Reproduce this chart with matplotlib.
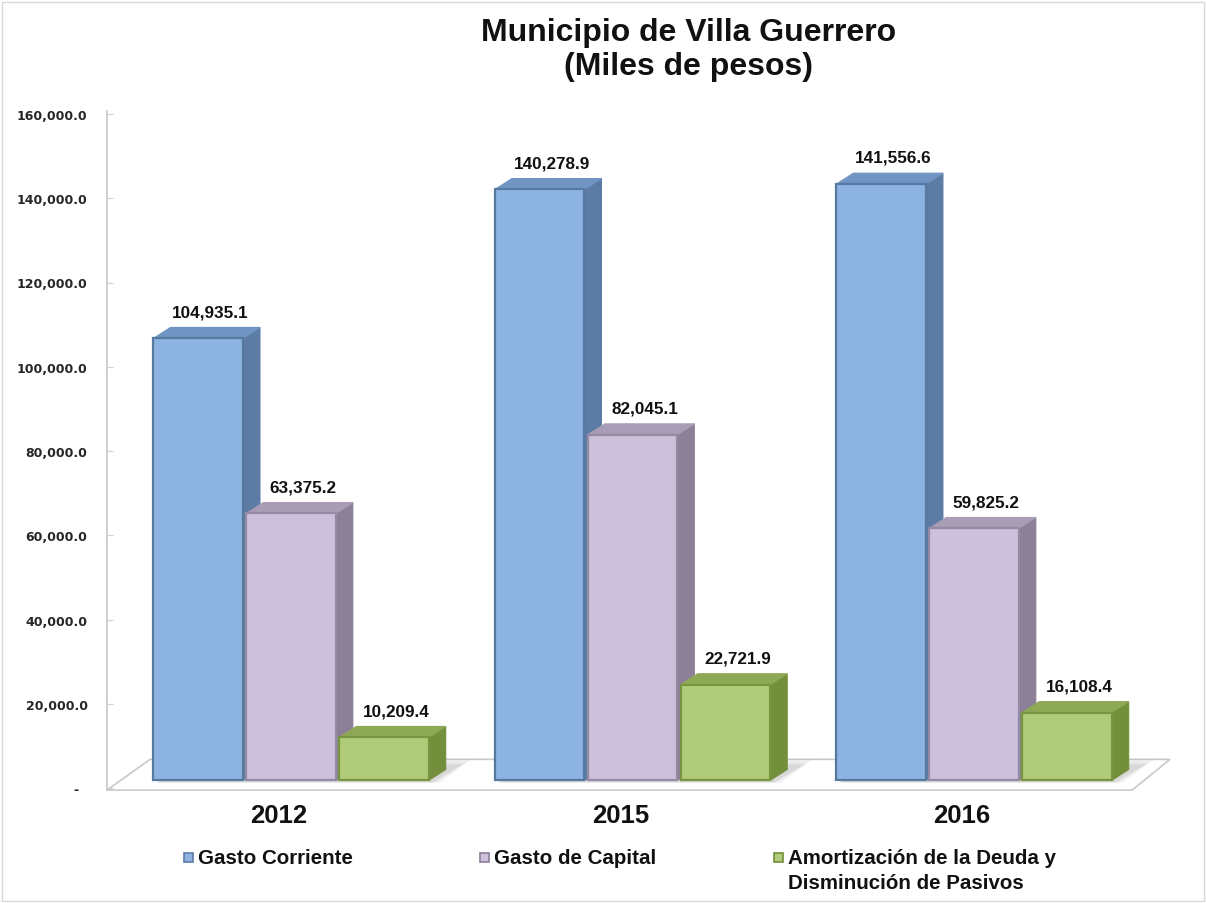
#!/usr/bin/env python3
"""Municipio de Villa Guerrero - gasto por tipo (3D-look bar chart)."""
import numpy as np
import matplotlib
matplotlib.use('Agg')
import matplotlib.pyplot as plt
from matplotlib.patches import Polygon, Rectangle

# Data
YEARS = ['2012', '2015', '2016']
SERIES = ['Gasto Corriente', 'Gasto de Capital',
          'Amortización de la Deuda y\nDisminución de Pasivos']
GASTO_CORRIENTE = [104935.1, 140278.9, 141556.6]
GASTO_CAPITAL = [63375.2, 82045.1, 59825.2]
AMORTIZACION = [10209.4, 22721.9, 16108.4]
Y_TICKS = [0, 20000, 40000, 60000, 80000, 100000, 120000, 140000, 160000]

# Colours: front, side, top, edge
COLORS = [
    ('#8db3e2', '#5c7ca6', '#7095c4', '#56799f'),
    ('#ccc0da', '#8c7f98', '#a99cb6', '#958aa3'),
    ('#b0cb7a', '#738f3b', '#8ea955', '#789640'),
]

W, H, DPI = 12.06, 9.04, 100
BAR_W = 0.262
BAR_STEP = 0.272
DEPTH_X = 0.05       # side depth in x units (~17 px)
DEPTH_Y = 2600       # side depth in y units (~11 px)
BASE = 1800          # front face baseline above axis zero
FONT = 'Liberation Sans'


def px(x, y):
    """Figure pixel (from top-left) to figure fraction."""
    return x / (W * DPI), 1 - y / (H * DPI)


fig = plt.figure(figsize=(W, H), dpi=DPI)
fig.patch.set_facecolor('white')
fig.patches.append(Rectangle(px(2, 902), 1202 / (W * DPI), 899 / (H * DPI),
                             transform=fig.transFigure, fill=False,
                             edgecolor='#d9d9d9', linewidth=1))

l, b = px(107, 789)
r, t = px(1170, 115)
ax = fig.add_axes([l, b, r - l, t - b])
ax.set_xlim(-0.539, 2.574)
ax.set_ylim(0, 160000)
ax.set_facecolor('none')

# floor
floor = Polygon([(-0.539, -500), (2.463, -500), (2.574, 6800), (-0.413, 6800)],
                closed=True, facecolor='white', edgecolor='#c9c9c9',
                linewidth=1.2, clip_on=False, zorder=1)
ax.add_patch(floor)

x = np.arange(len(YEARS))
series_vals = [GASTO_CORRIENTE, GASTO_CAPITAL, AMORTIZACION]

for gi in range(len(YEARS)):
    # soft shadow on the floor behind the group
    x0 = x[gi] - BAR_STEP - BAR_W / 2
    x1 = x[gi] + BAR_STEP + BAR_W / 2
    for k, a in enumerate([0.18, 0.14, 0.10]):
        grow = k * 0.012
        shadow = Polygon([(x0 + 0.01, BASE - 500), (x1 + 0.01 + grow, BASE - 500),
                          (x1 + DEPTH_X + 0.05 + grow, BASE + DEPTH_Y + 1200 + k * 600),
                          (x0 + DEPTH_X + 0.03, BASE + DEPTH_Y + 1200 + k * 600)],
                         closed=True, facecolor='#9a9a9a', edgecolor='none',
                         alpha=a, zorder=2, clip_on=False)
        ax.add_patch(shadow)

for si, vals in enumerate(series_vals):
    front, side, top, edge = COLORS[si]
    pos = x + (si - 1) * BAR_STEP
    bars = ax.bar(pos, vals, width=BAR_W, bottom=BASE, color=front,
                  edgecolor=edge, linewidth=1.6, zorder=10 + si * 3 + 2)
    for bar, v in zip(bars, vals):
        bx0 = bar.get_x()
        bx1 = bx0 + bar.get_width()
        y0 = BASE
        y1 = BASE + v
        zo = 10 + si * 3
        ax.add_patch(Polygon([(bx1, y0), (bx1 + DEPTH_X, y0 + DEPTH_Y),
                              (bx1 + DEPTH_X, y1 + DEPTH_Y), (bx1, y1)],
                             closed=True, facecolor=side, edgecolor=side,
                             linewidth=0.8, zorder=zo))
        ax.add_patch(Polygon([(bx0, y1), (bx1, y1),
                              (bx1 + DEPTH_X, y1 + DEPTH_Y),
                              (bx0 + DEPTH_X, y1 + DEPTH_Y)],
                             closed=True, facecolor=top, edgecolor=top,
                             linewidth=0.8, zorder=zo + 1))
        ax.annotate(f'{v:,.1f}', (bar.get_x() + bar.get_width() / 2 + 0.035,
                                  y1 + DEPTH_Y),
                    xytext=(0, 6), textcoords='offset points',
                    ha='center', va='bottom', fontsize=12.3,
                    fontweight='bold', family=FONT, color='#111111',
                    zorder=40)

# axes styling
for s in ['top', 'right', 'bottom']:
    ax.spines[s].set_visible(False)
ax.spines['left'].set_color('#c8c8c8')
ax.spines['left'].set_linewidth(1.2)
ax.spines['left'].set_bounds(-500, 160800)
ax.set_yticks(Y_TICKS)
ax.set_yticklabels(['-  '] + [f'{v:,.1f}' for v in Y_TICKS[1:]],
                   fontsize=9, fontweight='bold', family='DejaVu Sans',
                   color='#262626')
ax.tick_params(axis='y', direction='in', length=4, color='#d0d0d0', pad=14)
ax.set_xticks(x - 0.035)
ax.set_xticklabels(YEARS, fontsize=18.5, fontweight='bold', family=FONT,
                   color='#111111')
ax.tick_params(axis='x', length=0, pad=11)

# title
fig.text(*px(689, 50), 'Municipio de Villa Guerrero\n(Miles de pesos)',
         ha='center', va='center', fontsize=23, fontweight='bold',
         family=FONT, color='#111111', linespacing=1.2)

# legend (manual, to match original layout)
legend_x = [184, 480, 774]
for (lx, label, cols) in zip(legend_x, SERIES, COLORS):
    sx, sy = px(lx, 863)
    fig.patches.append(Rectangle((sx, sy), 9 / (W * DPI), 9 / (H * DPI),
                                 transform=fig.transFigure,
                                 facecolor=cols[0], edgecolor=cols[1],
                                 linewidth=1.2))
    fig.text(*px(lx + 14, 849), label, ha='left', va='top', fontsize=14.8,
             fontweight='bold', family=FONT, color='#111111',
             linespacing=1.4)

fig.savefig('out.png', dpi=DPI, facecolor='white')
plt.close(fig)
